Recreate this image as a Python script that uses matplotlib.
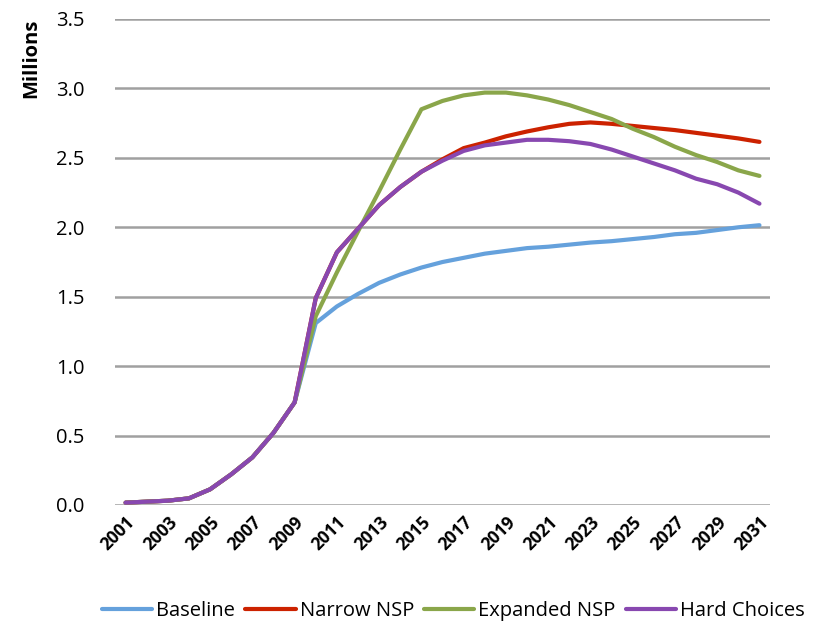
import matplotlib.pyplot as plt

# Projected enrolment, millions
years = list(range(2001, 2032))
baseline = [0.017, 0.024, 0.031, 0.048, 0.113, 0.221, 0.343, 0.52, 0.739, 1.31,
            1.43, 1.52, 1.60, 1.66, 1.71, 1.75, 1.78, 1.81, 1.83, 1.85,
            1.86, 1.875, 1.89, 1.90, 1.915, 1.93, 1.95, 1.96, 1.98, 2.00, 2.015]
narrow_nsp = [0.017, 0.024, 0.031, 0.048, 0.113, 0.221, 0.343, 0.52, 0.739, 1.49,
              1.82, 1.99, 2.16, 2.29, 2.40, 2.49, 2.57, 2.61, 2.655, 2.69,
              2.72, 2.745, 2.755, 2.745, 2.73, 2.715, 2.70, 2.68, 2.66, 2.64, 2.615]
expanded_nsp = [0.017, 0.024, 0.031, 0.048, 0.113, 0.221, 0.343, 0.52, 0.739, 1.36,
                1.675, 1.97, 2.26, 2.56, 2.85, 2.91, 2.95, 2.97, 2.97, 2.95,
                2.92, 2.88, 2.83, 2.78, 2.71, 2.65, 2.58, 2.52, 2.47, 2.41, 2.37]
hard_choices = [0.017, 0.024, 0.031, 0.048, 0.113, 0.221, 0.343, 0.52, 0.739, 1.49,
                1.82, 1.99, 2.16, 2.29, 2.40, 2.48, 2.55, 2.59, 2.61, 2.63,
                2.63, 2.62, 2.60, 2.56, 2.51, 2.46, 2.41, 2.35, 2.31, 2.25, 2.17]

series = [
    ('Baseline', baseline, '#65A1DC'),
    ('Narrow NSP', narrow_nsp, '#CC2200'),
    ('Expanded NSP', expanded_nsp, '#8AA64A'),
    ('Hard Choices', hard_choices, '#8848B0'),
]

plt.rcParams['font.family'] = ['Open Sans', 'DejaVu Sans']

fig = plt.figure(figsize=(8.17, 6.25), dpi=100)
ax = fig.add_axes([0.1408, 0.192, 0.8017, 0.7776])

for name, values, color in series:
    ax.plot(years, values, label=name, color=color, linewidth=3.0,
            solid_capstyle='round', solid_joinstyle='round')

ax.set_xlim(2000.5, 2031.5)
ax.set_ylim(0, 3.5)
ax.set_yticks([0, 0.5, 1.0, 1.5, 2.0, 2.5, 3.0, 3.5])
ax.set_yticklabels(['%.1f' % v for v in ax.get_yticks()], fontsize=14.5)
ax.set_xticks(years[::2])
ax.set_xticklabels([str(y) for y in years[::2]], rotation=45, ha='right',
                   rotation_mode='anchor', fontsize=12.5, fontweight='bold')

ax.grid(axis='y', color='#A0A0A0', linewidth=1.8)
ax.set_axisbelow(True)
for side in ax.spines:
    ax.spines[side].set_visible(False)
ax.tick_params(axis='both', length=0)
ax.tick_params(axis='y', pad=22)
ax.tick_params(axis='x', pad=6)

ax.set_ylabel('Millions', fontsize=14.5, fontweight='bold')
ax.yaxis.set_label_coords(-0.112, 0.92)

fig.legend(loc='lower center', bbox_to_anchor=(0.555, -0.022), ncol=4,
           frameon=False, fontsize=14.5, handlelength=2.5, handletextpad=0.2,
           columnspacing=0.5)

plt.savefig('out.png', dpi=100)
